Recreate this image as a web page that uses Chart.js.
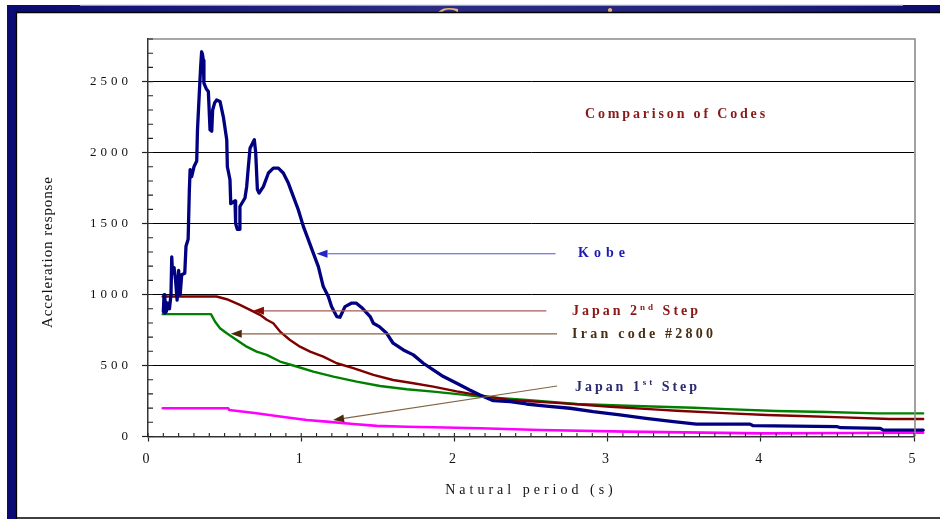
<!DOCTYPE html>
<html><head><meta charset="utf-8">
<script src="https://cdn.jsdelivr.net/npm/chart.js@4"></script>
<style>html,body{margin:0;padding:0;background:#fff;overflow:hidden}#wrap{width:940px;height:519px}</style>
</head><body><div id="wrap"><canvas id="c" width="940" height="519"></canvas></div>
<script>
// ---------- data ----------
const kobeT = [0.100,0.105,0.110,0.115,0.120,0.130,0.140,0.150,0.155,0.160,0.170,0.180,0.190,0.200,0.210,0.220,0.240,0.248,0.262,0.270,0.275,0.285,0.300,0.318,0.323,0.335,0.344,0.350,0.356,0.361,0.365,0.380,0.394,0.405,0.416,0.422,0.435,0.448,0.470,0.492,0.514,0.518,0.535,0.540,0.568,0.572,0.583,0.594,0.600,0.633,0.644,0.655,0.666,0.680,0.694,0.703,0.714,0.725,0.753,0.786,0.818,0.851,0.883,0.916,0.949,0.981,1.014,1.047,1.079,1.112,1.144,1.177,1.198,1.232,1.253,1.286,1.330,1.360,1.400,1.450,1.471,1.510,1.558,1.600,1.667,1.732,1.797,1.862,1.928,2.015,2.100,2.167,2.254,2.363,2.470,2.600,2.755,2.906,3.080,3.250,3.430,3.580,3.930,3.950,4.500,4.520,4.780,4.800,5.060];
const kobeA = [880,1000,870,950,880,940,900,1000,1265,1150,1190,1100,960,1170,1000,1140,1150,1340,1390,1740,1880,1830,1900,1940,2160,2420,2610,2710,2690,2650,2490,2450,2430,2160,2150,2300,2350,2370,2360,2250,2090,1900,1810,1640,1660,1500,1460,1460,1620,1680,1760,1900,2030,2060,2090,2000,1740,1715,1760,1856,1890,1890,1856,1785,1690,1597,1480,1385,1292,1197,1056,986,915,845,840,915,940,939,903,845,798,774,727,657,610,575,516,469,422,375,328,293,252,245,229,214,199,175,152,128,104,87,87,76,69,62,57,45,45];

const jp2T = [0.096,0.447,0.514,0.600,0.666,0.731,0.775,0.818,0.862,0.927,0.992,1.058,1.144,1.232,1.340,1.471,1.600,1.732,1.862,2.015,2.167,2.363,2.690,3.016,3.300,3.450,3.800,4.040,4.260,4.540,4.840,5.060];
const jp2A = [986,986,967,927,892,857,822,798,739,680,633,598,563,516,481,434,398,375,351,318,290,257,235,210,191,181,163,151,144,135,123,123];

const iranT = [0.096,0.411,0.437,0.470,0.514,0.579,0.644,0.709,0.775,0.862,0.970,1.079,1.210,1.362,1.514,1.689,1.862,2.037,2.167,2.470,2.800,3.125,3.560,3.780,4.100,4.430,4.760,5.060];
const iranA = [862,862,810,763,727,680,633,598,575,528,493,457,422,387,356,333,316,297,281,257,229,217,203,193,180,173,163,163];

const jp1T = [0.096,0.524,0.530,0.709,0.862,1.036,1.166,1.340,1.493,1.689,1.862,2.167,2.560,3.125,4.000,4.600,5.060];
const jp1A = [199,199,187,164,141,116,105,88,75,69,65,58,46,34,22,25,27];

const xTickLabels = [0,1,2,3,4,5];
const yTickLabels = [0,500,1000,1500,2000,2500];

const seriesNames = ['Kobe','Japan 2nd Step','Iran code #2800','Japan 1st Step'];

// ---------- helpers ----------
const F = '"Liberation Serif","Times New Roman",serif';
const pts = (t,a) => t.map((x,i)=>({x:x,y:a[i]}));
const isMaj = (v, list) => list.some(m => Math.abs(m - v) < 1e-6);

function drawSpaced(c, parts, x, y, targetW, weight, color){
  c.save(); c.fillStyle = color; c.textBaseline = 'middle'; c.textAlign = 'left';
  c.letterSpacing = '0px';
  let natural = 0, n = 0;
  parts.forEach(p => { c.font = weight + ' ' + p[1] + 'px ' + F; natural += c.measureText(p[0]).width; n += p[0].length; });
  const s = Math.max(0, (targetW - natural) / Math.max(1, n - 1));
  let cx = x;
  parts.forEach(p => {
    c.font = weight + ' ' + p[1] + 'px ' + F; c.letterSpacing = '0px';
    const w = c.measureText(p[0]).width;
    c.letterSpacing = s + 'px';
    c.fillText(p[0], cx, y + (p[2] || 0));
    cx += w + s * p[0].length;
  });
  c.restore();
}

function arrow(c, x1, y1, x2, y2, lineColor, headColor){
  const ang = Math.atan2(y2 - y1, x2 - x1), L = 11, W = 4;
  const bx = x2 - L * Math.cos(ang), by = y2 - L * Math.sin(ang);
  c.strokeStyle = lineColor; c.lineWidth = 1.1;
  c.beginPath(); c.moveTo(x1, y1); c.lineTo(bx, by); c.stroke();
  c.fillStyle = headColor; c.beginPath(); c.moveTo(x2, y2);
  c.lineTo(bx + W * Math.sin(ang), by - W * Math.cos(ang));
  c.lineTo(bx - W * Math.sin(ang), by + W * Math.cos(ang));
  c.closePath(); c.fill();
}

// annotation labels, in data coordinates
const notes = [
  {parts:[['Kobe',14]], tx:2.807, ty:1287, w:47, color:'#1a1ab4', tail:[2.66,1287], tip:[1.10,1287], line:'#5050dc', head:'#2424c8'},
  {parts:[['Japan 2',14],['nd',9,-4],[' Step',14]], tx:2.768, ty:878, w:126, color:'#8a1616', tail:[2.60,885], tip:[0.685,885], line:'#a65a5a', head:'#8a0a0a'},
  {parts:[['Iran code #2800',14]], tx:2.768, ty:716, w:141, color:'#4a2e12', tail:[2.67,723], tip:[0.54,723], line:'#866446', head:'#4a2a0a'},
  {parts:[['Japan 1',14],['st',9,-4],[' Step',14]], tx:2.787, ty:349, w:122, color:'#2a2a6e', tail:[2.67,356], tip:[1.208,116], line:'#866446', head:'#4a2a0a'}
];

const deco = {
  id:'deco',
  beforeDraw(chart){
    const c = chart.ctx; c.save();
    c.fillStyle = '#fff'; c.fillRect(0, 0, chart.width, chart.height);
    const g = c.createLinearGradient(7, 0, 940, 0);
    g.addColorStop(0, '#0a0a74'); g.addColorStop(0.45, '#2c2c84'); g.addColorStop(0.8, '#22227c'); g.addColorStop(1, '#0c0c6e');
    c.fillStyle = g; c.fillRect(7, 5, 933, 7.5);
    c.fillStyle = '#cdcde4'; c.fillRect(80, 4.5, 823, 1.2);
    // slide title hidden behind the chart picture
    c.save(); c.beginPath(); c.rect(0, 0, 940, 12); c.clip();
    c.font = '40px ' + F; c.letterSpacing = '7px'; c.fillStyle = '#e8b27a'; c.textBaseline = 'alphabetic';
    c.fillText('Comparison', 434, 34);
    c.restore();
    c.fillStyle = '#0b0b76'; c.fillRect(7, 5, 9.5, 514);
    c.strokeStyle = '#000'; c.lineWidth = 1.3;
    c.beginPath();
    c.moveTo(16.5, 12.5); c.lineTo(940, 12.5);
    c.moveTo(16.5, 12.5); c.lineTo(16.5, 519);
    c.moveTo(16.5, 518); c.lineTo(940, 518);
    c.stroke();
    c.restore();
    c.letterSpacing = '4px';
  },
  afterDatasetsDraw(chart){
    const c = chart.ctx, xs = chart.scales.x, ys = chart.scales.y;
    c.save(); c.letterSpacing = '0px';
    notes.forEach(n => {
      arrow(c, xs.getPixelForValue(n.tail[0]), ys.getPixelForValue(n.tail[1]),
               xs.getPixelForValue(n.tip[0]), ys.getPixelForValue(n.tip[1]), n.line, n.head);
      drawSpaced(c, n.parts, xs.getPixelForValue(n.tx), ys.getPixelForValue(n.ty), n.w, 'bold', n.color);
    });
    drawSpaced(c, [['Comparison of Codes',14]], xs.getPixelForValue(2.853), ys.getPixelForValue(2267), 180, 'bold', '#8a1a1a');
    c.restore();
  },
  afterDraw(chart){
    const c = chart.ctx, a = chart.chartArea, xs = chart.scales.x, ys = chart.scales.y;
    c.save(); c.letterSpacing = '0px';
    // top/right plot border
    c.strokeStyle = '#8a8a8a'; c.lineWidth = 1.6;
    c.beginPath(); c.moveTo(a.left, a.top); c.lineTo(a.right + 1, a.top); c.lineTo(a.right + 1, a.bottom); c.stroke();
    // inner tick marks
    c.strokeStyle = '#222'; c.lineWidth = 1.1;
    c.beginPath();
    xs.ticks.forEach(t => { const p = xs.getPixelForValue(t.value); c.moveTo(p, a.bottom - 3.5); c.lineTo(p, a.bottom); });
    ys.ticks.forEach(t => { const p = ys.getPixelForValue(t.value); c.moveTo(a.left, p); c.lineTo(a.left + 5, p); });
    c.stroke();
    c.restore();
    // y axis title
    c.save();
    c.translate(48, 252.5); c.rotate(-Math.PI / 2);
    drawSpaced(c, [['Acceleration response',15]], -75.5, 0, 151, 'normal', '#111');
    c.restore();
    c.letterSpacing = '0px';
  }
};

new Chart(document.getElementById('c'), {
  type: 'line',
  data: { datasets: [
    {label: seriesNames[0], data: pts(kobeT, kobeA), borderColor: '#000080', borderWidth: 3.3, clip: false},
    {label: seriesNames[1], data: pts(jp2T, jp2A), borderColor: '#800000', borderWidth: 2.4, clip: false},
    {label: seriesNames[2], data: pts(iranT, iranA), borderColor: '#008000', borderWidth: 2.4, clip: false},
    {label: seriesNames[3], data: pts(jp1T, jp1A), borderColor: '#ff00ff', borderWidth: 2.6, clip: false}
  ]},
  options: {
    responsive: false, animation: false,
    layout: { padding: {left: 20, right: 26, top: 39, bottom: 20} },
    elements: { point: {radius: 0}, line: {tension: 0, borderJoinStyle: 'round', borderCapStyle: 'round'} },
    plugins: { legend: {display: false}, tooltip: {enabled: false} },
    scales: {
      x: {
        type: 'linear', min: 0, max: 5,
        afterFit: s => { s.height = 62.5; },
        ticks: { stepSize: 0.1, autoSkip: false, maxRotation: 0, padding: 9, color: '#111',
          font: {family: F, size: 14},
          callback: v => isMaj(v, xTickLabels) ? String(Math.round(v)) : '' },
        grid: { drawOnChartArea: false, tickLength: 5, tickWidth: 1.2,
          tickColor: ctx => (ctx.tick && isMaj(ctx.tick.value, xTickLabels)) ? '#222' : 'rgba(0,0,0,0)' },
        border: { color: '#333', width: 1.5 },
        title: { display: true, text: 'Natural period (s)', color: '#111', font: {family: F, size: 14}, padding: {top: 6, bottom: 0} }
      },
      y: {
        min: 0, max: 2800,
        afterFit: s => { s.width = 128; },
        ticks: { stepSize: 100, autoSkip: false, padding: 10, color: '#111',
          font: {family: F, size: 13},
          callback: v => isMaj(v, yTickLabels) ? String(v) : '' },
        grid: { lineWidth: 1, tickLength: 6, tickWidth: 1.2,
          color: ctx => (ctx.tick && ctx.tick.value > 0 && isMaj(ctx.tick.value, yTickLabels)) ? '#000' : 'rgba(0,0,0,0)',
          tickColor: ctx => (ctx.tick && isMaj(ctx.tick.value, yTickLabels)) ? '#222' : 'rgba(0,0,0,0)' },
        border: { color: '#333', width: 1.5 }
      }
    }
  },
  plugins: [deco]
});
</script>
</body></html>
